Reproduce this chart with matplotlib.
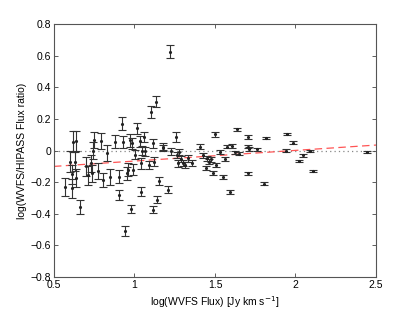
import matplotlib
matplotlib.use("Agg")
import matplotlib.pyplot as plt
import numpy as np

plt.rcParams['font.family'] = ['Liberation Sans', 'DejaVu Sans']

# log(WVFS flux)
x_vals = [0.57, 0.60, 0.61, 0.615, 0.62, 0.63, 0.64, 0.64, 0.66, 0.70, 0.71, 0.73, 0.735, 0.745, 0.75,
          0.775, 0.79, 0.806, 0.83, 0.85, 0.88, 0.904, 0.905, 0.924, 0.926, 0.94, 0.951, 0.96, 0.97, 0.98,
          0.987, 0.99, 1.003, 1.013, 1.035, 1.04, 1.04, 1.045, 1.06, 1.065, 1.09, 1.10, 1.113, 1.117, 1.123,
          1.133, 1.142, 1.154, 1.175, 1.18, 1.208, 1.22, 1.225, 1.256, 1.266, 1.272, 1.278, 1.287, 1.30, 1.316,
          1.335, 1.355, 1.41, 1.427, 1.442, 1.452, 1.463, 1.475, 1.485, 1.502, 1.504, 1.531, 1.552, 1.564, 1.572,
          1.593, 1.603, 1.624, 1.634, 1.651, 1.707, 1.707, 1.713, 1.707, 1.759, 1.806, 1.815, 1.941, 1.949, 1.982,
          2.022, 2.045, 2.09, 2.107, 2.442]
# log(WVFS/HIPASS flux ratio)
y_vals = [-0.23, -0.07, -0.24, -0.15, 0.057, -0.07, 0.06, -0.175, -0.355, -0.10, -0.155, -0.08, -0.145, 0.0, 0.065,
          -0.13, 0.06, -0.185, -0.015, -0.165, 0.057, -0.28, -0.165, 0.17, 0.055, -0.51, -0.145, -0.12, 0.065, -0.37,
          0.045, -0.12, -0.025, 0.14, 0.06, -0.26, -0.08, 0.0, 0.085, -0.005, -0.09, 0.245, -0.375, 0.045, -0.07,
          0.31, -0.31, -0.195, 0.015, 0.025, -0.248, 0.625, -0.005, 0.087, -0.03, -0.08, -0.01, -0.055, -0.08, -0.09,
          -0.05, -0.08, 0.025, -0.03, -0.11, -0.05, -0.07, -0.055, -0.14, 0.103, -0.09, -0.01, -0.165, -0.055, 0.025,
          -0.26, 0.03, -0.01, 0.135, -0.02, 0.087, 0.025, 0.008, -0.143, 0.008, -0.21, 0.078, 0.0, 0.105, 0.05,
          -0.065, -0.03, 0.0, -0.13, -0.01]
# half-length of error bars
y_errs = [0.058, 0.068, 0.06, 0.06, 0.065, 0.06, 0.062, 0.058, 0.045, 0.06, 0.06, 0.055, 0.055, 0.055, 0.05,
          0.05, 0.05, 0.045, 0.05, 0.05, 0.042, 0.03, 0.04, 0.042, 0.04, 0.03, 0.04, 0.04, 0.04, 0.025,
          0.035, 0.035, 0.03, 0.035, 0.035, 0.028, 0.035, 0.03, 0.03, 0.03, 0.025, 0.038, 0.022, 0.03, 0.028,
          0.036, 0.022, 0.025, 0.02, 0.02, 0.022, 0.042, 0.02, 0.03, 0.02, 0.022, 0.02, 0.02, 0.02, 0.02,
          0.02, 0.02, 0.015, 0.015, 0.015, 0.015, 0.015, 0.015, 0.012, 0.015, 0.012, 0.012, 0.012, 0.012, 0.012,
          0.012, 0.012, 0.01, 0.01, 0.01, 0.012, 0.012, 0.012, 0.01, 0.008, 0.008, 0.008, 0.008, 0.008, 0.008,
          0.007, 0.008, 0.006, 0.006, 0.006]

# linear fit line endpoints (x-range of fit)
fit_x = [0.5, 2.5]
fit_slope = 0.0675
fit_intercept = -0.134

fig = plt.figure(figsize=(4.15, 3.13), dpi=100)
ax = fig.add_axes([0.130, 0.115, 0.776, 0.808])

ax.plot([0.5, 2.5], [0, 0], linestyle=(0, (1, 2.5)), color='#888888', linewidth=0.9, zorder=1)
fx = np.array(fit_x)
ax.plot(fx, fit_slope * fx + fit_intercept, linestyle=(0, (6, 3.5)), color='#ff5555', linewidth=0.9, zorder=2)

ax.errorbar(x_vals, y_vals, yerr=y_errs, fmt='.', color='#222222', ecolor='#333333', markersize=2.5,
            elinewidth=0.8, capsize=3.2, capthick=0.8, zorder=3)

ax.set_xlim(0.5, 2.5)
ax.set_ylim(-0.8, 0.8)
ax.set_xticks([0.5, 1, 1.5, 2, 2.5])
ax.set_xticklabels(['0.5', '1', '1.5', '2', '2.5'])
ax.set_yticks([-0.8, -0.6, -0.4, -0.2, 0, 0.2, 0.4, 0.6, 0.8])
ax.set_yticklabels(['\u22120.8', '\u22120.6', '\u22120.4', '\u22120.2', '0', '0.2', '0.4', '0.6', '0.8'])
ax.tick_params(direction='in', length=3, width=0.6, labelsize=7.5, top=True, right=True, colors='#444444',
               labelcolor='black', pad=2)
for s in ax.spines.values():
    s.set_color('#555555')
    s.set_linewidth(0.8)

ax.set_xlabel('log(WVFS Flux) [Jy km s$^{-1}$]', fontsize=7.5, labelpad=3)
ax.set_ylabel('log(WVFS/HIPASS Flux ratio)', fontsize=7.5, labelpad=3)

fig.savefig('out.png', dpi=100)
